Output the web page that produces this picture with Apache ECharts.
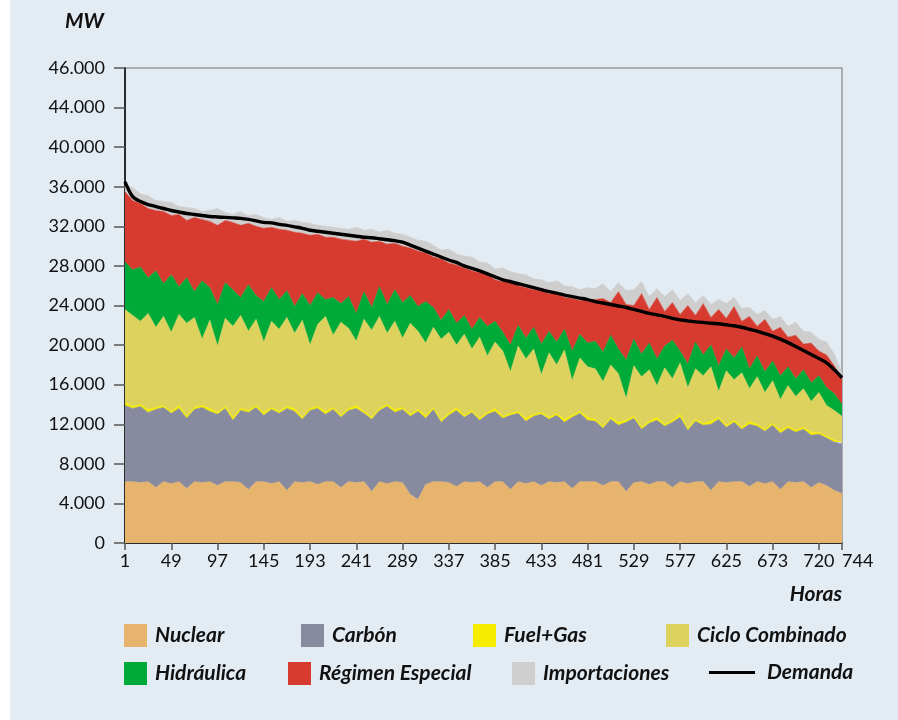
<!DOCTYPE html>
<html>
<head>
<meta charset="utf-8">
<script src="https://cdn.jsdelivr.net/npm/echarts@6/dist/echarts.min.js"></script>
<style>
html,body{margin:0;padding:0;background:#E3EBF3;}
#chart{width:898px;height:720px;}
</style>
</head>
<body>
<div id="chart"></div>
<script>
// Hours sampled along the month (load-duration order)
const hours = [1,9,17,25,33,41,49,57,65,73,81,89,97,105,113,121,129,137,145,153,161,169,177,185,193,201,209,217,225,233,241,249,257,265,273,281,289,297,305,313,321,329,337,345,353,361,369,377,385,393,401,409,417,425,433,441,449,457,465,473,481,489,497,505,513,521,529,537,545,553,561,569,577,585,593,601,609,617,625,633,641,649,657,665,673,681,689,697,705,713,721,729,737,744];
// Hours that carry an axis tick / label
const tickHours = [1,49,97,145,193,241,289,337,385,433,481,529,577,625,673,721,744];
const lastHour = 744;

// Values in thousands of MW
const nuclear = [6.2,6.2,6.1,6.2,5.6,6.2,6.0,6.2,5.5,6.2, 6.1,6.2,5.8,6.2,6.2,6.1,5.4,6.2,6.2,6.0, 6.2,5.3,6.2,6.1,6.2,5.9,6.2,6.2,5.6,6.2, 6.1,6.2,5.2,6.2,6.0,6.2,6.1,4.9,4.4,5.9, 6.2,6.2,6.1,5.7,6.2,6.1,6.2,5.6,6.2,6.2, 5.4,6.2,6.0,6.2,5.8,6.2,6.1,6.2,5.5,6.2, 6.2,6.2,5.8,6.2,6.2,5.2,6.1,6.2,5.9,6.2, 6.2,5.6,6.2,6.0,6.2,6.2,5.3,6.2,6.1,6.2, 6.2,5.7,6.2,6.0,6.2,5.4,6.2,6.1,6.2,5.6, 6.1,5.8,5.3,5.0];
const carbon = [7.7,7.4,7.7,7.0,7.9,7.5,7.1,7.4,7.1,7.3, 7.6,7.1,7.2,7.4,6.2,7.3,7.8,7.5,6.7,7.5, 6.9,8.3,7.1,6.4,7.2,7.7,6.8,7.3,7.1,7.2, 7.5,6.9,7.3,7.2,7.8,7.0,7.4,7.9,8.9,6.7, 7.3,6.0,6.8,7.7,6.5,7.1,6.2,7.4,7.1,6.4, 7.5,6.9,6.3,6.6,7.2,6.3,6.8,6.0,7.2,6.9, 6.2,6.1,5.8,6.3,5.7,7.0,6.5,5.3,6.2,6.2, 5.6,6.6,6.5,5.4,6.1,5.7,6.7,6.3,5.6,6.0, 5.3,6.3,5.6,5.3,5.7,5.7,5.4,5.1,5.3,5.3, 4.9,4.8,4.9,5.0];
const fuelGas = [0.3,0.2,0.2,0.3,0.2,0.2,0.2,0.3,0.2,0.2, 0.2,0.3,0.2,0.2,0.3,0.2,0.2,0.2,0.3,0.2, 0.2,0.2,0.3,0.2,0.2,0.2,0.3,0.2,0.2,0.2, 0.3,0.2,0.2,0.2,0.2,0.3,0.2,0.2,0.2,0.3, 0.2,0.2,0.2,0.3,0.2,0.2,0.2,0.2,0.3,0.2, 0.2,0.2,0.3,0.2,0.2,0.2,0.2,0.3,0.2,0.2, 0.3,0.2,0.2,0.2,0.3,0.2,0.2,0.2,0.2,0.3, 0.2,0.2,0.3,0.2,0.2,0.2,0.3,0.2,0.2,0.2, 0.2,0.3,0.2,0.2,0.2,0.3,0.2,0.2,0.2,0.3, 0.2,0.2,0.2,0.2];
const cicloCombinado = [9.4,9.2,8.4,9.7,8.1,9.0,8.0,9.2,9.4,9.1, 6.7,8.9,6.7,8.9,9.2,9.4,8.0,8.7,7.1,8.7, 8.3,9.0,7.6,9.8,6.4,8.3,9.6,7.3,9.4,8.1, 6.5,9.3,8.8,9.3,7.2,8.9,7.0,9.2,7.9,7.3, 8.1,8.2,8.2,6.3,8.2,6.2,8.2,5.7,6.7,6.6, 4.2,6.6,6.0,6.6,3.8,6.5,4.9,7.0,3.5,5.4, 5.1,5.1,4.5,5.3,4.9,2.2,5.1,5.1,5.2,3.2, 5.7,4.2,5.2,4.1,5.1,4.8,5.5,2.6,5.5,4.1, 5.5,3.3,4.8,3.7,4.3,3.1,4.1,3.4,3.9,3.1, 4.0,3.1,3.0,2.6];
const hidraulica = [4.8,4.6,5.5,3.6,5.7,3.3,5.8,2.8,4.6,2.6, 5.9,3.3,4.2,3.6,3.7,1.8,4.7,2.4,4.1,3.4, 3.0,2.7,2.7,2.7,4.0,3.2,1.7,3.8,1.9,3.2, 2.8,2.8,2.3,3.0,2.9,3.2,3.6,2.8,2.5,4.2, 2.0,1.9,2.3,2.2,1.9,2.0,2.0,3.0,2.1,1.9, 2.7,2.1,2.1,2.2,3.1,2.2,2.3,2.1,3.0,2.4, 2.4,2.8,3.0,3.0,2.5,3.9,2.7,2.3,2.7,2.7, 2.2,3.9,1.2,2.4,2.7,2.1,2.2,2.6,2.2,2.2, 2.6,2.0,2.1,2.1,2.0,2.4,1.9,1.8,1.9,1.9, 1.7,1.8,1.7,1.2];
const regimenEspecial = [7.1,7.0,6.4,7.0,6.1,7.3,6.0,7.3,5.8,7.5, 6.2,6.7,8.0,6.3,6.8,7.3,6.2,7.0,7.4,6.1, 7.1,6.1,7.5,6.1,7.1,5.9,6.3,6.1,6.5,5.7, 7.3,5.3,6.6,4.6,6.1,4.7,5.7,4.8,5.6,4.9, 5.1,6.2,4.7,5.9,4.8,5.9,4.5,5.2,4.2,5.1, 6.6,4.0,5.1,3.8,5.4,3.8,5.0,3.2,5.3,3.4, 4.4,4.2,5.4,3.3,5.8,5.6,3.4,6.1,3.4,6.2, 3.5,3.8,3.7,5.9,2.7,5.2,2.8,5.7,3.1,5.2, 2.6,5.3,3.0,5.3,3.0,4.9,3.0,4.4,2.6,4.0, 2.5,3.3,2.8,2.6];
const importaciones = [0.7,1.3,1.0,1.3,1.0,1.0,1.3,0.8,1.3,0.9, 0.8,1.1,1.7,0.8,0.8,1.4,0.8,1.2,1.1,0.8, 1.2,0.9,1.2,1.1,1.2,0.9,1.1,1.0,1.1,1.1, 1.4,0.9,1.3,0.9,1.4,1.0,1.2,1.1,1.1,1.2, 1.2,0.9,1.4,1.1,1.2,1.4,1.1,1.2,1.1,1.4, 0.8,1.2,1.3,1.1,1.1,1.1,1.2,1.2,1.2,1.1, 1.2,1.1,1.5,1.1,0.9,1.4,1.6,1.2,1.3,0.9, 1.5,1.3,1.4,1.2,1.3,0.8,1.3,1.0,1.5,0.9, 1.3,0.9,1.2,0.9,1.2,1.1,1.1,1.3,1.3,1.1, 1.2,1.3,1.2,0.6];
const demanda = [36.5,35.0,34.5,34.2,34.0,33.8,33.6,33.45,33.3,33.2, 33.1,33.0,32.95,32.9,32.85,32.8,32.7,32.55,32.4,32.35, 32.2,32.1,31.95,31.8,31.6,31.5,31.4,31.3,31.2,31.1, 31.0,30.9,30.85,30.75,30.65,30.55,30.4,30.1,29.8,29.5, 29.2,28.9,28.6,28.35,28.0,27.75,27.5,27.2,26.9,26.6, 26.4,26.2,26.0,25.8,25.6,25.4,25.25,25.05,24.9,24.75, 24.6,24.4,24.25,24.1,23.95,23.8,23.6,23.4,23.2,23.05, 22.9,22.7,22.55,22.45,22.35,22.3,22.2,22.15,22.05,21.95, 21.8,21.6,21.4,21.15,20.9,20.6,20.25,19.85,19.45,19.05, 18.65,18.2,17.5,16.7];

const seriesNames = ['Nuclear','Carbón','Fuel+Gas','Ciclo Combinado','Hidráulica','Régimen Especial','Importaciones','Demanda'];
const seriesColors = ['#E6B46C','#888BA0','#F6EC00','#DDD25E','#00AA38','#D73A2F','#CECECE','#000000'];
const stackedValues = [nuclear, carbon, fuelGas, cicloCombinado, hidraulica, regimenEspecial, importaciones];

const series = stackedValues.map((arr, k) => ({
  name: seriesNames[k],
  type: 'line',
  stack: 'total',
  data: arr,
  symbol: 'none',
  lineStyle: {width: 0.6, color: seriesColors[k]},
  itemStyle: {color: seriesColors[k]},
  areaStyle: {color: seriesColors[k], opacity: 1},
  emphasis: {disabled: true},
  z: 2
}));
series.push({
  name: 'Demanda',
  type: 'line',
  data: demanda,
  symbol: 'none',
  smooth: 0.3,
  lineStyle: {width: 3.4, color: '#000'},
  itemStyle: {color: '#000'},
  z: 5
});

const legendFont = {fontFamily: 'Lato', fontStyle: 'italic', fontWeight: 'bold', fontSize: 21, color: '#111', padding: [0,0,0,3]};
const legendPos = [
  [124, 624], [301, 624], [473, 624], [666, 624],
  [124, 662], [288, 662], [512, 662]
];
const legends = legendPos.map((p, k) => ({
  data: [seriesNames[k]], left: p[0], top: p[1], padding: 0,
  icon: 'rect', itemWidth: 23, itemHeight: 23,
  textStyle: legendFont, selectedMode: false
}));
legends.push({
  data: ['Demanda'], left: 709, top: 662, padding: 0,
  icon: 'rect', itemWidth: 46, itemHeight: 3,
  textStyle: Object.assign({}, legendFont, {padding: [0,0,0,7]}), selectedMode: false
});

const showTick = (idx, val) => tickHours.indexOf(Number(val)) >= 0;
const showLabelMain = (idx, val) => Number(val) !== lastHour && tickHours.indexOf(Number(val)) >= 0;
const showLabelLast = (idx, val) => Number(val) === lastHour;
const labelFont = {fontFamily: 'Lato', fontSize: 18, color: '#111'};

const chart = echarts.init(document.getElementById('chart'));
chart.setOption({
  animation: false,
  backgroundColor: '#E3EBF3',
  grid: {left: 125, right: 56, top: 68, bottom: 177, show: true, borderColor: '#707070', borderWidth: 1, backgroundColor: 'transparent'},
  legend: legends,
  graphic: [
    {type: 'rect', left: 0, top: 0, shape: {width: 10, height: 720}, style: {fill: '#ffffff'}, silent: true},
    {type: 'text', left: 65, top: 11, style: {text: 'MW', font: 'italic bold 21px Lato', fill: '#111'}},
    {type: 'text', right: 56, top: 584, style: {text: 'Horas', font: 'italic bold 21px Lato', fill: '#111'}}
  ],
  xAxis: [{
    type: 'category', data: hours, boundaryGap: false, position: 'bottom',
    axisLine: {show: true, lineStyle: {color: '#000', width: 1.5}},
    axisTick: {show: true, length: 7, interval: showTick, lineStyle: {color: '#555', width: 1.5}},
    splitLine: {show: false},
    axisLabel: Object.assign({
      margin: 9, interval: showLabelMain, hideOverlap: false,
      formatter: v => (Number(v) === 721 ? '720' : String(v))
    }, labelFont)
  }, {
    type: 'category', data: hours, boundaryGap: false, position: 'bottom',
    axisLine: {show: false}, axisTick: {show: false}, splitLine: {show: false},
    axisLabel: Object.assign({
      margin: 9, interval: showLabelLast, align: 'left', hideOverlap: false,
      showMinLabel: false, showMaxLabel: true
    }, labelFont)
  }],
  yAxis: {
    type: 'value', min: 0, max: 48, interval: 4,
    axisLine: {show: true, lineStyle: {color: '#000', width: 1.5}},
    axisTick: {show: true, length: 11, lineStyle: {color: '#555', width: 1.5}},
    splitLine: {show: false},
    axisLabel: Object.assign({
      margin: 20,
      formatter: v => (v === 0 ? '0' : (v === 48 ? '46' : String(v)) + '.000')
    }, labelFont)
  },
  series: series
});
</script>
</body>
</html>
